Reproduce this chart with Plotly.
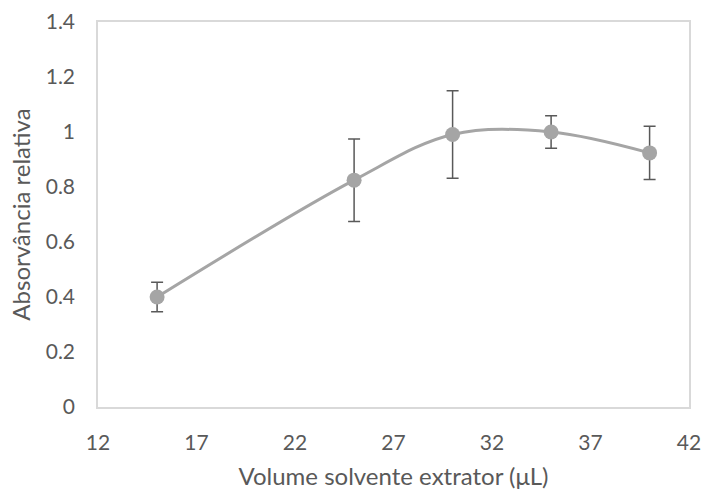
import plotly.graph_objects as go

x_vals = [15, 25, 30, 35, 40]
y_vals = [0.40, 0.825, 0.991, 1.0, 0.924]
y_err = [0.054, 0.15, 0.159, 0.059, 0.097]
x_ticks = [12, 17, 22, 27, 32, 37, 42]
y_ticks = [0, 0.2, 0.4, 0.6, 0.8, 1, 1.2, 1.4]
y_tick_text = ["0", "0.2", "0.4", "0.6", "0.8", "1", "1.2", "1.4"]

fig = go.Figure()
fig.add_trace(go.Scatter(
    x=x_vals, y=y_vals,
    mode="lines+markers",
    line=dict(color="#a5a5a5", width=3, shape="spline", smoothing=1),
    marker=dict(color="#a5a5a5", size=15),
    error_y=dict(type="data", array=y_err, visible=True, color="#595959", thickness=1.5, width=6),
    showlegend=False,
))

font_family = "Lato, 'Open Sans', sans-serif"
fig.update_layout(
    width=705, height=490,
    margin=dict(l=98, r=16, t=22, b=83, autoexpand=False),
    plot_bgcolor="white", paper_bgcolor="white",
    font=dict(family=font_family, color="#595959", size=21),
    xaxis=dict(
        range=[12, 42], tickvals=x_ticks, showgrid=False, zeroline=False,
        showline=True, mirror=True, linecolor="#d9d9d9", linewidth=1.5,
        ticks="", ticklabelstandoff=16, automargin=False,
        tickfont=dict(size=21, color="#595959"),
        title=dict(text="Volume solvente extrator (μL)", font=dict(size=24, color="#595959"), standoff=18),
    ),
    yaxis=dict(
        range=[0, 1.4], tickvals=y_ticks, ticktext=y_tick_text, showgrid=False, zeroline=False,
        showline=True, mirror=True, linecolor="#d9d9d9", linewidth=1.5,
        ticks="", ticklabelstandoff=17, automargin=False,
        tickfont=dict(size=21, color="#595959"),
        title=dict(text="Absorvância relativa", font=dict(size=24, color="#595959"), standoff=8),
    ),
)

fig.write_html("out.html")
